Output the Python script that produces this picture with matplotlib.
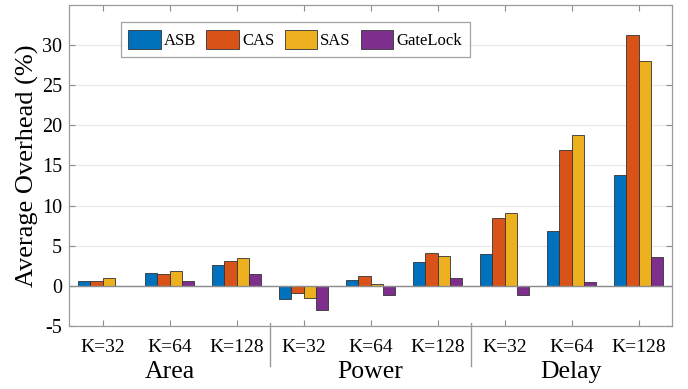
import numpy as np
import matplotlib
matplotlib.use("Agg")
import matplotlib.pyplot as plt
import matplotlib.transforms as mtransforms

# ── Data ──────────────────────────────────────────────────────
groups      = ["Area", "Power", "Delay"]
tick_labels = ["K=32", "K=64", "K=128"] * 3
series      = ["ASB", "CAS", "SAS", "GateLock"]

asb      = [0.57, 1.62, 2.65, -1.63, 0.78, 2.98, 3.98, 6.88, 13.8]
cas      = [0.66, 1.53, 3.10, -0.88, 1.28, 4.14, 8.46, 16.99, 31.3]
sas      = [1.00, 1.87, 3.48, -1.53, 0.29, 3.77, 9.08, 18.78, 28.0]
gatelock = [0.00, 0.62, 1.45, -2.97, -1.10, 1.03, -1.12, 0.50, 3.6]

colors = ["#0072BD", "#D95319", "#EDB120", "#7E2F8E"]

# ── Figure ────────────────────────────────────────────────────
plt.rcParams["font.family"] = ["Liberation Serif", "DejaVu Serif"]
plt.rcParams["axes.unicode_minus"] = False

fig = plt.figure(figsize=(6.88, 3.89), dpi=100)
ax = fig.add_axes([69 / 688, 1 - 326 / 389, 603 / 688, 321 / 389])

x = np.arange(1, len(tick_labels) + 1)
width = 0.18
offsets = [-1.5 * width, -0.5 * width, 0.5 * width, 1.5 * width]

for vals, off, col, name in zip([asb, cas, sas, gatelock], offsets, colors, series):
    ax.bar(x + off, vals, width=width, color=col, edgecolor="#333333",
           linewidth=0.6, label=name, zorder=3)

ax.axhline(0, color="#8c8c8c", lw=1.0, zorder=4)

ax.set_xlim(0.5, 9.5)
ax.set_ylim(-5, 35)
ax.set_yticks(np.arange(-5, 31, 5))
ax.set_xticks(x)
ax.set_xticklabels(tick_labels, fontsize=14)
ax.tick_params(axis="y", labelsize=14.5)
ax.tick_params(direction="in", top=True, right=True, length=4,
               color="#8c8c8c", width=0.8)
ax.tick_params(axis="x", pad=9)
ax.tick_params(axis="y", pad=5)

ax.yaxis.grid(True, color="#e8e8e8", lw=0.9, zorder=0)
ax.set_axisbelow(True)
for sp in ax.spines.values():
    sp.set_color("#9a9a9a")
    sp.set_linewidth(0.9)

ax.set_ylabel("Average Overhead (%)", fontsize=19, labelpad=2)

# group labels and separators under the axis
trans = mtransforms.blended_transform_factory(ax.transData, ax.transAxes)
for i, g in enumerate(groups):
    ax.text(3 * i + 2, -0.143, g, transform=trans, ha="center", va="center",
            fontsize=18.5)
for sx in [3.5, 6.5]:
    ax.plot([sx, sx], [0.009, -0.125], transform=trans, color="#9a9a9a",
            lw=1.0, clip_on=False)

leg = ax.legend(ncol=4, loc="upper left", bbox_to_anchor=(0.086, 0.947),
                fontsize=12, frameon=True, fancybox=False, edgecolor="#8c8c8c",
                handlelength=1.95, handleheight=1.45, handletextpad=0.2,
                columnspacing=0.6, borderpad=0.45, borderaxespad=0)
leg.get_frame().set_linewidth(0.9)

plt.savefig("out.png", dpi=100)
